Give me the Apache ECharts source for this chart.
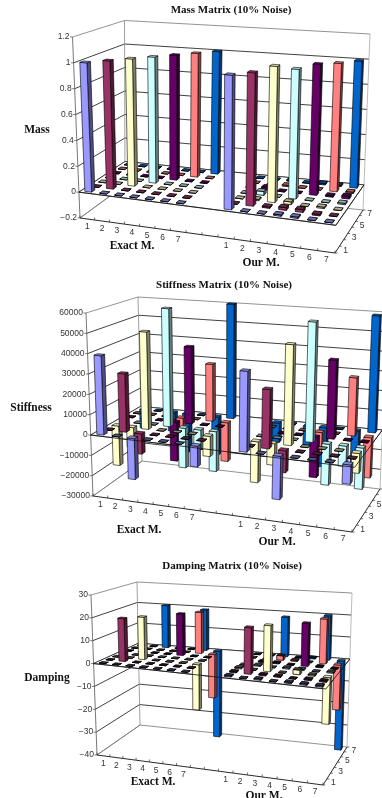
<!DOCTYPE html>
<html>
<head>
<meta charset="utf-8">
<style>html,body{margin:0;padding:0;background:#fff}#c{width:382px;height:798px}</style>
<script src="https://cdn.jsdelivr.net/npm/echarts@6/dist/echarts.min.js"></script>
</head>
<body>
<div id="c"></div>
<script>
// Each matrix is listed row by row; rows run front to back, columns left to right.
const massExact = [
  [1,0,0,0,0,0,0],[0,1,0,0,0,0,0],[0,0,1,0,0,0,0],[0,0,0,1,0,0,0],
  [0,0,0,0,1,0,0],[0,0,0,0,0,1,0],[0,0,0,0,0,0,1]];
const massOur = [
  [1,0,0,0.01,0.01,0,0],[0,1,0.01,0.02,0.02,-0.01,0],[0,0.01,1.03,0.02,0,0.01,0],
  [0,0.03,0,0.99,0,0,0.01],[0.01,0.02,0,0,1.01,0.01,0.02],[0,0,0.01,0,0,1,0.01],
  [0,0,0.01,0,0.01,0.01,1]];
const stiffExact = [
  [39000,0,-20000,0,0,0,-10000],
  [0,29000,-10000,0,0,0,0],
  [-20000,-10000,49000,0,0,0,-10000],
  [0,0,0,60000,-20000,-10000,-20000],
  [0,0,0,-20000,39500,0,0],
  [0,0,0,-10000,0,29500,-20000],
  [-10000,0,-10000,-20000,0,-20000,60000]];
const stiffOur = [
  [38500,0,-20500,0,0,0,-9000],
  [0,28500,-10500,0,0,0,0],
  [-20000,-10500,49000,0,0,0,-9500],
  [0,0,0,59000,-20000,-10000,-20000],
  [0,0,0,-20000,39000,0,0],
  [0,0,0,-10000,0,29000,-20000],
  [-10000,0,-10000,-20000,0,-20000,59000]];
const dampExact = [
  [0,0,0,0,0,0,0],[0,19,0,0,0,0,0],[0,0,19,0,0,0,-20],[0,0,0,0,0,0,0],
  [0,0,0,0,19,0,0],[0,0,0,0,0,19,-20],[0,0,20,0,0,19,-40]];
const dampOur = [
  [0.5,0,0.5,0,0.5,0.5,0.5],[0.5,20,0.5,0.5,0,0.5,0.5],[0.5,0,20,0,2,0.5,-20],[0,0.5,0,0.5,0.5,0,0.5],
  [0,0.5,0.5,0,19,0.5,0],[0,0,2,0.5,0,20,-20],[0,0,18,0,0.5,20,-40]];

const massTicks = [-0.2,0,0.2,0.4,0.6,0.8,1,1.2];
const stiffTicks = [-30000,-20000,-10000,0,10000,20000,30000,40000,50000,60000];
const dampTicks = [-40,-30,-20,-10,0,10,20,30];
const rowLabels = [1,3,5,7];
const colLabels = [1,2,3,4,5,6,7];
const rowColors = ['#9999FF','#993366','#FFFFCC','#CCFFFF','#660066','#FF8080','#0066CC'];

// Scene corners per panel: floor and ceiling quads as front-left, front-right, back-right, back-left.
// warp evens out the column spacing, tileShade darkens the near-zero bars.
const panels = [
  {name:'Mass', exact:massExact, our:massOur, ticks:massTicks, warp:0.11, tileShade:0.7,
   floor:[[80,218],[335,253],[363,210],[125,185]], roof:[[72.5,37],[341,59],[370,34],[124.5,20.5]],
   title:['Mass Matrix (10% Noise)',231,10], side:['Mass',37,130], ex:['Exact M.',132,246], ou:['Our M.',261,263]},
  {name:'Stiffness', exact:stiffExact, our:stiffOur, ticks:stiffTicks, warp:0.03, tileShade:0.55,
   floor:[[93,496],[352,532],[380,489],[142,461]], roof:[[86,313],[360,338],[387,312],[138,297]],
   title:['Stiffness Matrix (10% Noise)',224,285], side:['Stiffness',31,408], ex:['Exact M.',139,530], ou:['Our M.',277,542]},
  {name:'Damping', exact:dampExact, our:dampOur, ticks:dampTicks, warp:0.06, tileShade:0.3,
   floor:[[97,755],[323,785],[347,747],[140,725]], roof:[[91,595],[328,617],[352,593],[137,582]],
   title:['Damping Matrix (10% Noise)',232,566], side:['Damping',47,678], ex:['Exact M.',153,782], ou:['Our M.',264,796]}
];

const SLOTS = 16, ROWS = 7, OUR_SHIFT = 9, BAR = 0.46;
const SANS = '"Liberation Sans",Arial,sans-serif', SERIF = '"Liberation Serif","Times New Roman",serif';

function quadMap(q){
  const [[x0,y0],[x1,y1],[x2,y2],[x3,y3]] = q;
  const dx1=x1-x2, dx2=x3-x2, sx=x0-x1+x2-x3, dy1=y1-y2, dy2=y3-y2, sy=y0-y1+y2-y3;
  const den=dx1*dy2-dx2*dy1, g=(sx*dy2-dx2*sy)/den, h=(dx1*sy-sx*dy1)/den;
  const a=x1-x0+g*x1, b=x3-x0+h*x3, d=y1-y0+g*y1, e=y3-y0+h*y3;
  return (u,v)=>{const w=g*u+h*v+1; return [(a*u+b*v+x0)/w,(d*u+e*v+y0)/w];};
}
// Turns (slot, depth, value) into a screen point, reading slot and value through the grid's axes.
// Uprights rise from the perspective floor by an offset blended from the four corner uprights.
function projector(panel, params, api){
  const cs = params.coordSys, lo = quadMap(panel.floor);
  const up = panel.floor.map((f,i)=>[panel.roof[i][0]-f[0],panel.roof[i][1]-f[1]]);
  return (slot, depth, value)=>{
    const c = api.coord([slot, value]);
    const t = (c[0]-cs.x)/cs.width, w = (cs.y+cs.height-c[1])/cs.height, d = depth/ROWS;
    const u = t + panel.warp*t*(1-t);
    const p = lo(u,d);
    const blend = k => (1-u)*(1-d)*up[0][k]+u*(1-d)*up[1][k]+u*d*up[2][k]+(1-u)*d*up[3][k];
    return [p[0]+blend(0)*w, p[1]+blend(1)*w];
  };
}
const seg=(a,b,stroke,lineWidth)=>({type:'line',shape:{x1:a[0],y1:a[1],x2:b[0],y2:b[1]},style:{stroke,lineWidth}});
const label=(text,x,y,align)=>({type:'text',style:{text,x,y,fill:'#333',fontFamily:SANS,fontSize:8.5,align,verticalAlign:'middle'}});
function shade(hex,k){
  const n=parseInt(hex.slice(1),16);
  return 'rgb('+[n>>16&255,n>>8&255,n&255].map(c=>Math.round(c*k)).join(',')+')';
}

function frameSeries(panel, i){
  const t = panel.ticks, bottom = t[0], top = t[t.length-1];
  return {type:'custom', coordinateSystem:'cartesian2d', xAxisIndex:i, yAxisIndex:i, z:1, silent:true, clip:false,
    data:[[0,0]],
    renderItem(params, api){
      const P = projector(panel, params, api), kids = [];
      t.forEach(v=>{
        const dark = v!==top && v!==bottom, col = dark ? '#111' : '#777';
        const a=P(0,0,v), b=P(0,ROWS,v), c=P(SLOTS,ROWS,v);
        kids.push(seg(a,b,col,0.8), seg(b,c,col,0.8), seg([a[0]-2.5,a[1]],a,'#444',0.7));
        kids.push(label(v<0 ? '\u2212'+(-v) : String(v),a[0]-3,a[1],'right'));
      });
      kids.push(seg(P(0,0,bottom),P(0,0,top),'#555',0.8));
      kids.push(seg(P(0,ROWS,bottom),P(0,ROWS,top),'#888',0.8));
      kids.push(seg(P(SLOTS,ROWS,bottom),P(SLOTS,ROWS,top),'#aaa',0.8));
      kids.push(seg(P(0,0,bottom),P(0,ROWS,bottom),'#777',0.8));
      kids.push(seg(P(0,0,bottom),P(SLOTS,0,bottom),'#111',0.9));
      kids.push(seg(P(SLOTS,0,bottom),P(SLOTS,ROWS,bottom),'#111',0.9));
      for(let s=0;s<=SLOTS;s++){const a=P(s,0,bottom); kids.push(seg(a,[a[0],a[1]-2.5],'#333',0.7));}
      for(let r=0;r<=ROWS;r++){const a=P(SLOTS,r,bottom); kids.push(seg(a,[a[0]+2.5,a[1]],'#333',0.7));}
      [0,OUR_SHIFT].forEach(shift=>colLabels.forEach(c=>{
        const a=P(c-0.5+shift,0,bottom); kids.push(label(String(c),a[0],a[1]+8,'center'));
      }));
      rowLabels.forEach(r=>{const a=P(SLOTS,r-0.5,bottom); kids.push(label(String(r),a[0]+6,a[1]+1,'left'));});
      // white plane at value zero carrying the bars
      kids.push({type:'polygon',shape:{points:[P(0,0,0),P(SLOTS,0,0),P(SLOTS,ROWS,0),P(0,ROWS,0)]},
        style:{fill:'#fff',stroke:'#111',lineWidth:0.7}});
      return {type:'group',children:kids};
    }};
}

function barSeries(panel, i){
  const data = [], t = panel.ticks, tiny = 0.03*(t[t.length-1]-t[0]);
  for(let r=ROWS-1;r>=0;r--){
    [[panel.exact,0],[panel.our,OUR_SHIFT]].forEach(([m,shift])=>{
      m[r].forEach((v,c)=>data.push([c+shift,v,r]));
    });
  }
  return {type:'custom', coordinateSystem:'cartesian2d', xAxisIndex:i, yAxisIndex:i, z:2, silent:true, clip:false,
    encode:{x:0,y:1}, data,
    renderItem(params, api){
      const P = projector(panel, params, api);
      const slot=api.value(0), v=api.value(1), r=api.value(2);
      const gap=(1-BAR)/2, x0=slot+gap, x1=slot+1-gap, d0=r+gap, d1=r+1-gap;
      const hi=Math.max(v,0), lo=Math.min(v,0), col=rowColors[r], small=Math.abs(v)<tiny;
      const st={stroke:'#000',lineWidth:small?0.8:0.6};
      return {type:'group',children:[
        {type:'polygon',shape:{points:[P(x1,d0,lo),P(x1,d1,lo),P(x1,d1,hi),P(x1,d0,hi)]},style:{fill:shade(col,0.5),...st}},
        {type:'polygon',shape:{points:[P(x0,d0,lo),P(x1,d0,lo),P(x1,d0,hi),P(x0,d0,hi)]},style:{fill:col,...st}},
        {type:'polygon',shape:{points:[P(x0,d0,hi),P(x1,d0,hi),P(x1,d1,hi),P(x0,d1,hi)]},style:{fill:shade(col,small?panel.tileShade:0.88),...st}}
      ]};
    }};
}

// The front edge of the zero plane stays in front of the bars.
function edgeSeries(panel, i){
  return {type:'custom', coordinateSystem:'cartesian2d', xAxisIndex:i, yAxisIndex:i, z:3, silent:true, clip:false,
    data:[[0,0]],
    renderItem(params, api){
      const P = projector(panel, params, api);
      return {type:'group',children:[seg(P(0,0,0),P(SLOTS,0,0),'#111',0.8),seg(P(SLOTS,0,0),P(SLOTS,ROWS,0),'#111',0.8)]};
    }};
}

const titles = [];
panels.forEach(p=>{
  const add=(a,size)=>titles.push({text:a[0],left:a[1],top:a[2],textAlign:'center',textVerticalAlign:'middle',padding:0,
    textStyle:{fontFamily:SERIF,fontWeight:'bold',fontSize:size,color:'#111'}});
  add(p.title,11); add(p.side,11.5); add(p.ex,11.5); add(p.ou,11.5);
});

const chart = echarts.init(document.getElementById('c'),null,{renderer:'canvas'});
chart.setOption({
  animation:false, backgroundColor:'#fff', title:titles,
  grid:panels.map(p=>({left:p.floor[0][0],top:p.roof[0][1],width:p.floor[1][0]-p.floor[0][0],height:p.floor[0][1]-p.roof[0][1]})),
  xAxis:panels.map((p,i)=>({gridIndex:i,type:'value',min:0,max:SLOTS,show:false})),
  yAxis:panels.map((p,i)=>({gridIndex:i,type:'value',min:p.ticks[0],max:p.ticks[p.ticks.length-1],show:false,scale:true})),
  series:panels.flatMap((p,i)=>[frameSeries(p,i),barSeries(p,i),edgeSeries(p,i)])
});
</script>
</body>
</html>
